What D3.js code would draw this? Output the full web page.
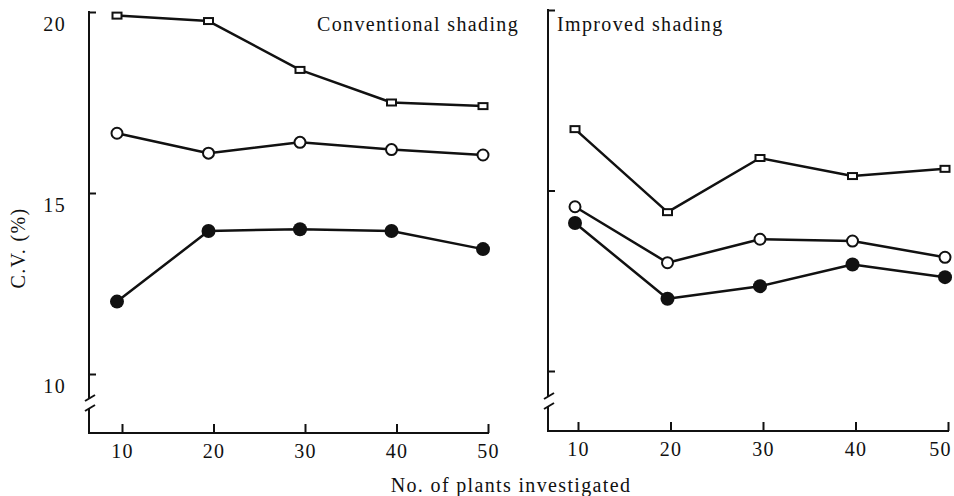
<!DOCTYPE html>
<html>
<head>
<meta charset="utf-8">
<script src="https://cdn.jsdelivr.net/npm/d3@7"></script>
<style>
  body { margin: 0; background: #fff; }
  svg text { font-family: "Liberation Serif", "DejaVu Serif", serif; fill: #111; }
</style>
</head>
<body>
<svg width="954" height="496"></svg>
<script>
// values
const plants = [10, 20, 30, 40, 50];
const yTicks = [10, 15, 20];

const convSquare = [19.9, 19.75, 18.4, 17.5, 17.4];
const convOpen = [16.65, 16.1, 16.4, 16.2, 16.05];
const convFilled = [12.0, 13.95, 14.0, 13.95, 13.45];

const impSquare = [16.7, 14.4, 15.9, 15.4, 15.6];
const impOpen = [14.55, 13.0, 13.65, 13.6, 13.15];
const impFilled = [14.1, 12.0, 12.35, 12.95, 12.6];

const svg = d3.select("svg"),
    width = +svg.attr("width"),
    height = +svg.attr("height");

const ink = "#111";
const fontSize = 20, spacing = 1.35;

const panels = [
    {title: "Conventional shading", square: convSquare, open: convOpen, filled: convFilled,
        axisX: 89, top: 12, bottom10: 374, baseY: 433, xRange: [117, 483], tickShift: 5,
        brk: [398, 408], labels: true, titleX: 519, anchor: "end"},
    {title: "Improved shading", square: impSquare, open: impOpen, filled: impFilled,
        axisX: 548, top: 10, bottom10: 371, baseY: 431, xRange: [575, 945], tickShift: 3,
        brk: [396, 406], labels: false, titleX: 557, anchor: "start"}
]

panels.forEach(function (p, i) {
    const x = d3.scaleLinear().domain([10, 50]).range(p.xRange)
    const y = d3.scaleLinear().domain([10, 20]).range([p.bottom10, p.top])
    const g = svg.append("g").attr("class", "panel")

    // y axis, ticks pointing inward
    const yAxis = d3.axisLeft(y)
        .tickValues(yTicks)
        .tickSizeInner(-7)
        .tickSizeOuter(0)
        .tickPadding(23)
        .tickFormat(p.labels ? d3.format("d") : "")
    const ya = g.append("g")
        .attr("transform", `translate(${p.axisX},0)`)
        .call(yAxis)
    ya.select(".domain").remove()
    ya.selectAll("line").attr("stroke", ink).attr("stroke-width", 2)
    ya.selectAll("text")
        .attr("dy", "0.9em")
        .style("font-size", fontSize + "px")
        .style("letter-spacing", spacing + "px")

    // y axis line with break marks
    const ax = p.axisX
    g.append("path")
        .attr("d", `M${ax},${p.top - 1}V${p.brk[0]}M${ax},${p.brk[1]}V${p.baseY}`)
        .attr("stroke", ink).attr("stroke-width", 2).attr("fill", "none")
    p.brk.forEach(function (b) {
        g.append("line")
            .attr("x1", ax - 4).attr("y1", b + 3)
            .attr("x2", ax + 6).attr("y2", b - 3)
            .attr("stroke", ink).attr("stroke-width", 2)
    })

    // x axis, ticks pointing up
    const xAxis = d3.axisBottom(x)
        .tickValues(plants)
        .tickSizeInner(-9)
        .tickSizeOuter(0)
        .tickPadding(11)
        .tickFormat(d3.format("d"))
    const xa = g.append("g")
        .attr("transform", `translate(${p.tickShift},${p.baseY})`)
        .call(xAxis)
    xa.select(".domain").remove()
    xa.selectAll("line").attr("stroke", ink).attr("stroke-width", 2)
    xa.selectAll("text")
        .style("font-size", fontSize + "px")
        .style("letter-spacing", spacing + "px")
    if (!p.labels) {
        xa.selectAll("text").filter(d => d === 50).attr("dx", -8)
    }
    g.append("line")
        .attr("x1", ax - 1).attr("y1", p.baseY)
        .attr("x2", x(50) + p.tickShift + 1).attr("y2", p.baseY)
        .attr("stroke", ink).attr("stroke-width", 2)

    // series lines
    const line = d3.line()
        .x((d, j) => x(plants[j]))
        .y(d => y(d))
    const series = [
        {vals: p.filled, kind: "filled"},
        {vals: p.open, kind: "open"},
        {vals: p.square, kind: "square"}
    ]
    series.forEach(function (s) {
        g.append("path")
            .datum(s.vals)
            .attr("d", line)
            .attr("fill", "none")
            .attr("stroke", ink)
            .attr("stroke-width", 2.5)
            .attr("stroke-linejoin", "round")
    })

    // markers
    series.forEach(function (s) {
        const pts = s.vals.map((v, j) => ({x: plants[j], v: v}))
        if (s.kind === "square") {
            g.selectAll(".sq" + i)
                .data(pts)
                .enter()
                .append("rect")
                .attr("class", "sq" + i)
                .attr("x", d => x(d.x) - 4.5)
                .attr("y", d => y(d.v) - 3)
                .attr("width", 9)
                .attr("height", 6)
                .attr("fill", "#fff")
                .attr("stroke", ink)
                .attr("stroke-width", 2)
        } else {
            g.selectAll(".c" + s.kind + i)
                .data(pts)
                .enter()
                .append("circle")
                .attr("class", "c" + s.kind + i)
                .attr("cx", d => x(d.x))
                .attr("cy", d => y(d.v))
                .attr("r", s.kind === "open" ? 5.5 : 7)
                .attr("fill", s.kind === "open" ? "#fff" : ink)
                .attr("stroke", ink)
                .attr("stroke-width", s.kind === "open" ? 2 : 0)
        }
    })

    g.append("text")
        .attr("x", p.titleX)
        .attr("y", 31)
        .attr("text-anchor", p.anchor)
        .style("font-size", fontSize + "px")
        .style("letter-spacing", spacing + "px")
        .text(p.title)
})

// shared labels
svg.append("text")
    .attr("transform", "translate(25,248) rotate(-90)")
    .attr("text-anchor", "middle")
    .style("font-size", fontSize + "px")
    .style("letter-spacing", spacing + "px")
    .text("C.V. (%)")

svg.append("text")
    .attr("x", 511)
    .attr("y", 492)
    .attr("text-anchor", "middle")
    .style("font-size", fontSize + "px")
    .style("letter-spacing", spacing + "px")
    .text("No. of plants investigated")
</script>
</body>
</html>
